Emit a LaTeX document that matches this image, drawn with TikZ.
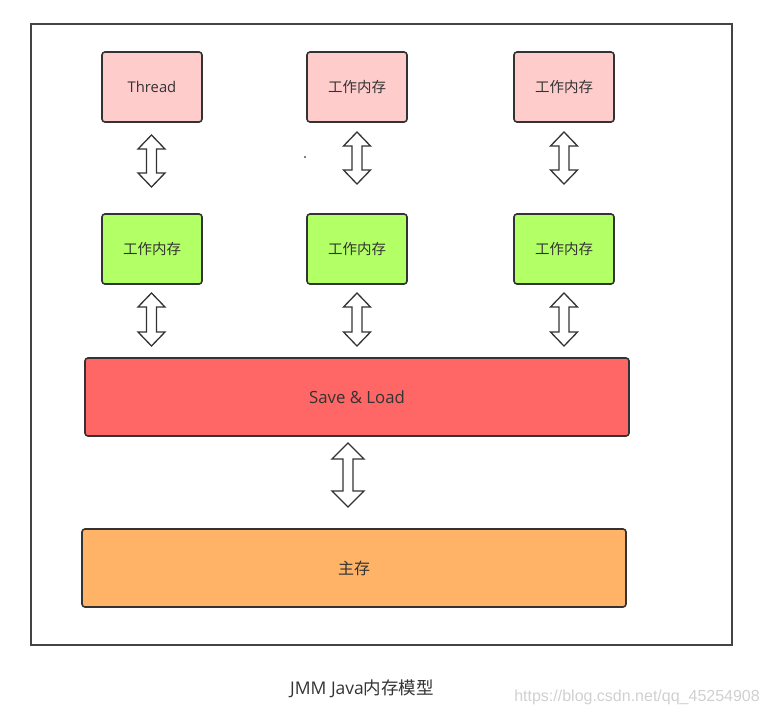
\documentclass[tikz,border=0pt]{standalone}
\usepackage{fontspec}
\setmainfont{Open Sans}
\newfontfamily\cjk{Noto Sans CJK SC}
\definecolor{pinkf}{HTML}{FFCCCC}
\definecolor{greenf}{HTML}{B3FF66}
\definecolor{redf}{HTML}{FF6666}
\definecolor{orangef}{HTML}{FFB366}
\definecolor{edge}{HTML}{333333}
\definecolor{frame}{HTML}{444444}
\definecolor{wm}{HTML}{D0D0D0}
\begin{document}
\begin{tikzpicture}[x=1pt,y=-1pt,
  box/.style={draw=edge,line width=1.6pt,rounded corners=3pt,text=edge,font=\cjk\fontsize{14.5}{17}\selectfont,inner sep=0pt},
  dbl/.style={draw=edge,line width=1.3pt,fill=white,line join=miter}]
\useasboundingbox (0,0) rectangle (769,716);
\draw[frame,line width=1.8pt] (31,24) rectangle (732,645);
% top row
\node[box,fill=pinkf,minimum width=100pt,minimum height=70pt] (t1) at (152,87) {\rmfamily\fontsize{14.8}{17}\selectfont\raisebox{-1.5pt}{Thread}};
\node[box,fill=pinkf,minimum width=100pt,minimum height=70pt] (t2) at (357,87) {\raisebox{-1.5pt}{工作内存}};
\node[box,fill=pinkf,minimum width=100pt,minimum height=70pt] (t3) at (564,87) {\raisebox{-1.5pt}{工作内存}};
% middle row
\node[box,fill=greenf,minimum width=100pt,minimum height=70pt] (m1) at (152,249) {\raisebox{-1.5pt}{工作内存}};
\node[box,fill=greenf,minimum width=100pt,minimum height=70pt] (m2) at (357,249) {\raisebox{-1.5pt}{工作内存}};
\node[box,fill=greenf,minimum width=100pt,minimum height=70pt] (m3) at (564,249) {\raisebox{-1.5pt}{工作内存}};
% big boxes
\node[box,fill=redf,minimum width=544pt,minimum height=78pt,font=\rmfamily\fontsize{16.8}{20}\selectfont] (sl) at (357,397) {Save \& Load};
\node[box,fill=orangef,minimum width=544pt,minimum height=78pt,font=\cjk\fontsize{16}{19}\selectfont] (mm) at (354,568) {主存};
% double arrows
\foreach \cx/\ya/\yb in {151.5/135/187, 357/132/184, 564/132/184, 151.5/293/346, 357/293/346, 564/293/346}{
  \draw[dbl] (\cx,\ya) -- (\cx+13.5,\ya+14) -- (\cx+5,\ya+14) -- (\cx+5,\yb-14) -- (\cx+13.5,\yb-14) -- (\cx,\yb)
    -- (\cx-13.5,\yb-14) -- (\cx-5,\yb-14) -- (\cx-5,\ya+14) -- (\cx-13.5,\ya+14) -- cycle;
}
\draw[dbl] (348,443) -- (364,459) -- (353,459) -- (353,491) -- (364,491) -- (348,507)
  -- (332,491) -- (343,491) -- (343,459) -- (332,459) -- cycle;
\fill[black] (305,157) circle (0.8pt);
% caption
\node[anchor=west,text=edge,inner sep=0pt] (cap) at (290,689) {\fontsize{17.5}{20}\selectfont JMM Java{\cjk 内存模型}};
\node[anchor=east,text=wm,inner sep=0pt] (wmk) at (760,697) {\fontspec{Liberation Sans}\fontsize{16}{19}\selectfont https://blog.csdn.net/qq\_45254908};
\end{tikzpicture}
\end{document}
